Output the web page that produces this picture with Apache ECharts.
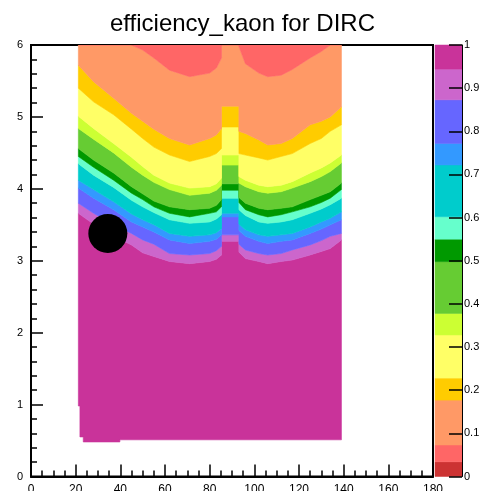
<!DOCTYPE html>
<html><head><meta charset="utf-8">
<script src="https://cdn.jsdelivr.net/npm/echarts@6/dist/echarts.min.js"></script>
<style>html,body{margin:0;padding:0;background:#fff}#c{width:485px;height:491px}</style>
</head><body><div id="c"></div>
<script>
// Title
const chartTitle = 'efficiency_kaon for DIRC';

// Angle columns (deg) where the contour heights were read
const angles = [21.2, 28, 37, 45, 50, 55, 62, 71, 80, 83, 85.3, 85.3, 93.1, 93.1, 96, 102, 106, 112, 117, 125, 130, 134, 139];

// Momentum (y) at which efficiency falls below each colour level, per angle column
const p_0944 = [3.66, 3.51, 3.34, 3.22, 3.11, 3.06, 2.99, 2.96, 2.99, 3.02, 3.08, 3.27, 3.27, 3.12, 3.03, 2.99, 2.96, 2.99, 3.01, 3.08, 3.13, 3.17, 3.29];
const p_0873 = [3.80, 3.66, 3.50, 3.38, 3.29, 3.23, 3.10, 3.08, 3.10, 3.14, 3.20, 3.36, 3.36, 3.23, 3.15, 3.10, 3.08, 3.10, 3.15, 3.22, 3.28, 3.34, 3.38];
const p_0772 = [4.01, 3.87, 3.71, 3.54, 3.47, 3.40, 3.29, 3.24, 3.27, 3.30, 3.36, 3.61, 3.61, 3.42, 3.34, 3.27, 3.24, 3.27, 3.29, 3.38, 3.44, 3.50, 3.57];
const p_0722 = [4.12, 3.99, 3.82, 3.65, 3.57, 3.50, 3.38, 3.34, 3.36, 3.39, 3.45, 3.66, 3.66, 3.51, 3.43, 3.36, 3.34, 3.36, 3.38, 3.47, 3.54, 3.59, 3.68];
const p_0602 = [4.35, 4.19, 4.02, 3.84, 3.75, 3.67, 3.57, 3.52, 3.54, 3.58, 3.64, 3.87, 3.87, 3.71, 3.63, 3.54, 3.52, 3.54, 3.57, 3.66, 3.72, 3.78, 3.87];
const p_0550 = [4.45, 4.30, 4.12, 3.94, 3.85, 3.75, 3.66, 3.61, 3.66, 3.68, 3.75, 3.98, 3.98, 3.81, 3.71, 3.64, 3.61, 3.64, 3.68, 3.75, 3.81, 3.87, 3.99];
const p_0498 = [4.56, 4.40, 4.22, 4.03, 3.93, 3.83, 3.75, 3.71, 3.73, 3.77, 3.85, 4.07, 4.07, 3.88, 3.80, 3.73, 3.71, 3.73, 3.75, 3.85, 3.91, 3.96, 4.08];
const p_0378 = [4.84, 4.69, 4.50, 4.30, 4.19, 4.09, 3.99, 3.91, 3.94, 3.98, 4.05, 4.33, 4.33, 4.08, 4.03, 3.96, 3.94, 3.96, 4.01, 4.10, 4.17, 4.24, 4.36];
const p_0328 = [5.01, 4.84, 4.63, 4.44, 4.31, 4.19, 4.08, 4.01, 4.03, 4.07, 4.15, 4.47, 4.47, 4.17, 4.12, 4.05, 4.03, 4.05, 4.10, 4.22, 4.29, 4.36, 4.47];
const p_0228 = [5.40, 5.21, 5.03, 4.83, 4.70, 4.58, 4.47, 4.38, 4.45, 4.49, 4.56, 4.86, 4.86, 4.49, 4.47, 4.43, 4.40, 4.45, 4.49, 4.63, 4.70, 4.80, 4.89];
const p_0177 = [5.72, 5.49, 5.26, 5.05, 4.94, 4.83, 4.70, 4.61, 4.70, 4.75, 4.84, 5.15, 5.15, 4.80, 4.77, 4.68, 4.61, 4.63, 4.70, 4.89, 4.94, 5.00, 5.14];
const p_0073 = [6.00, 6.00, 6.00, 6.00, 5.93, 5.82, 5.65, 5.56, 5.61, 5.68, 5.82, 6.00, 6.00, 5.98, 5.74, 5.61, 5.56, 5.58, 5.66, 5.82, 5.91, 6.00, 6.00];

// Lower edge of the filled histogram
const bottomAngles = [21.2, 21.9, 21.9, 23.4, 23.4, 39.8, 39.8, 139];
const bottomP = [0.98, 0.98, 0.55, 0.55, 0.48, 0.48, 0.51, 0.51];
const pMax = 6;

// Colour scale: level edges and colours (low -> high efficiency)
const levelEdges = [0, 0.034, 0.073, 0.177, 0.228, 0.328, 0.378, 0.498, 0.55, 0.602, 0.722, 0.772, 0.873, 0.944, 1];
const palette = ['#cc3333', '#ff6666', '#ff9966', '#ffcc00', '#ffff66', '#ccff33', '#66cc33', '#009900', '#66ffcc', '#00cccc', '#3399ff', '#6666ff', '#cc66cc', '#c9339a'];

// Marker point
const marker = [34.4, 3.38];

const contours = [p_0944, p_0873, p_0772, p_0722, p_0602, p_0550, p_0498, p_0378, p_0328, p_0228, p_0177, p_0073];
const nBands = contours.length + 1;
const bandIdx = [];
for (let b = 0; b < nBands; b++) bandIdx.push([b]);
const barIdx = [];
for (let i = 0; i < palette.length; i++) barIdx.push([i]);

function bandColor(b) { return palette[palette.length - 1 - b]; }

function renderBand(params, api) {
  const b = api.value(0);
  const up = b === nBands - 1 ? angles.map(() => pMax) : contours[b];
  const lowX = b === 0 ? bottomAngles : angles;
  const lowP = b === 0 ? bottomP : contours[b - 1];
  const pts = [];
  for (let i = 0; i < angles.length; i++) pts.push(api.coord([angles[i], up[i]]));
  for (let i = lowX.length - 1; i >= 0; i--) pts.push(api.coord([lowX[i], lowP[i]]));
  const c = bandColor(b);
  return { type: 'polygon', shape: { points: pts }, style: { fill: c, stroke: c, lineWidth: 0.6 } };
}

function renderBar(params, api) {
  const i = api.value(0);
  const p0 = api.coord([0, levelEdges[i]]);
  const p1 = api.coord([1, levelEdges[i + 1]]);
  return { type: 'rect', shape: { x: p0[0], y: p1[1], width: p1[0] - p0[0], height: p0[1] - p1[1] }, style: { fill: palette[i], stroke: palette[i], lineWidth: 0.5 } };
}

const font = 'Liberation Sans, Arial, Helvetica, sans-serif';
const chart = echarts.init(document.getElementById('c'), null, { renderer: 'canvas' });
chart.setOption({
  animation: false,
  backgroundColor: '#fff',
  title: { text: chartTitle, left: 'center', top: 12, padding: 0,
    textStyle: { fontFamily: font, fontSize: 24, fontWeight: 'normal', color: '#000' } },
  grid: [
    { left: 31, right: 52, top: 45, bottom: 14.5, show: true, borderColor: '#000', borderWidth: 2, backgroundColor: 'transparent', containLabel: false, outerBoundsMode: 'none' },
    { left: 435, width: 27, top: 45, bottom: 14.5, show: false, containLabel: false, outerBoundsMode: 'none' }
  ],
  xAxis: [
    { type: 'value', gridIndex: 0, min: 0, max: 180, interval: 20,
      axisLine: { onZero: false, lineStyle: { color: '#000', width: 2 } },
      axisTick: { inside: true, length: 12, lineStyle: { color: '#000', width: 1.5 } },
      minorTick: { show: true, splitNumber: 4, length: 6, lineStyle: { color: '#000', width: 1.5 } },
      splitLine: { show: false }, minorSplitLine: { show: false },
      axisLabel: { color: '#000', fontSize: 12, fontFamily: font, margin: 7 } },
    { type: 'value', gridIndex: 1, min: 0, max: 1, show: false }
  ],
  yAxis: [
    { type: 'value', gridIndex: 0, min: 0, max: 6, interval: 1,
      axisLine: { onZero: false, lineStyle: { color: '#000', width: 2 } },
      axisTick: { inside: true, length: 12, lineStyle: { color: '#000', width: 1.5 } },
      minorTick: { show: true, splitNumber: 5, length: 6, lineStyle: { color: '#000', width: 1.5 } },
      splitLine: { show: false }, minorSplitLine: { show: false },
      axisLabel: { color: '#000', fontSize: 11, fontFamily: font, margin: 8 } },
    { type: 'value', gridIndex: 1, min: 0, max: 1, interval: 0.1, position: 'right', z: 5,
      axisLine: { show: true, onZero: false, lineStyle: { color: '#000', width: 1 } },
      axisTick: { show: true, inside: true, length: 13, lineStyle: { color: '#000', width: 1.5 } },
      splitLine: { show: false },
      axisLabel: { color: '#000', fontSize: 11, fontFamily: font, margin: 2 } }
  ],
  series: [
    { type: 'custom', xAxisIndex: 0, yAxisIndex: 0, clip: true, renderItem: renderBand, data: bandIdx, silent: true, z: 2 },
    { type: 'scatter', xAxisIndex: 0, yAxisIndex: 0, data: [marker], symbolSize: 39, itemStyle: { color: '#000', opacity: 1 }, z: 4, silent: true },
    { type: 'custom', xAxisIndex: 1, yAxisIndex: 1, renderItem: renderBar, data: barIdx, silent: true, z: 2 }
  ]
});
</script>
</body></html>
